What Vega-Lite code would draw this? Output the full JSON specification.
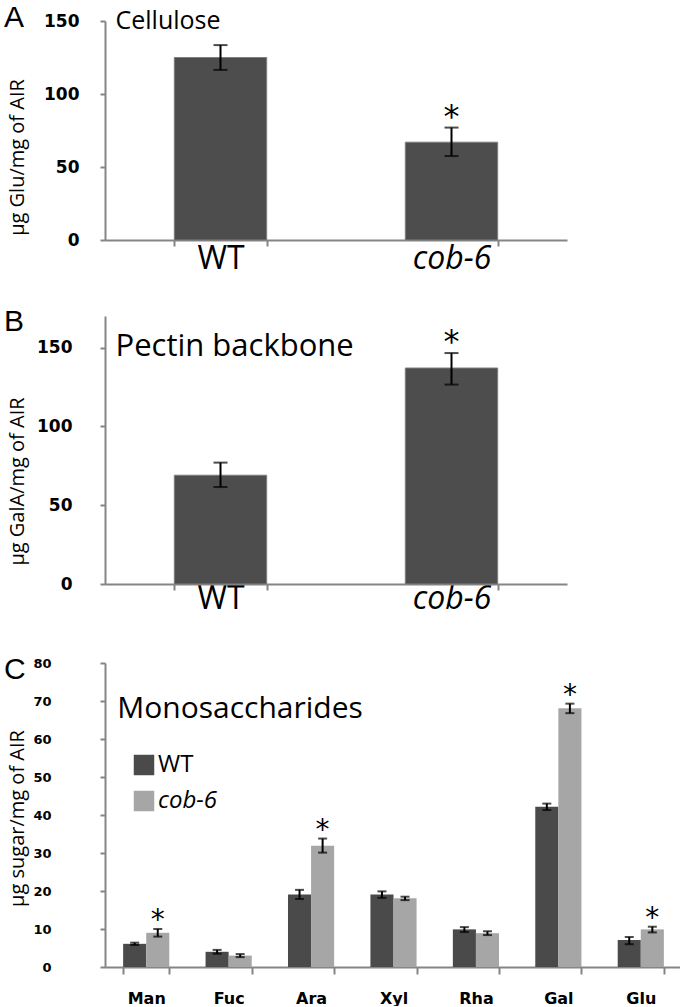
{
  "$schema": "https://vega.github.io/schema/vega-lite/v6.json",
  "padding": {"left": 3, "top": 3, "right": 0, "bottom": 0},
  "spacing": 33,
  "resolve": {"scale": {"color": "independent"}, "legend": {"color": "independent"}},
  "config": {
    "view": {"stroke": null},
    "axis": {"grid": false, "domainColor": "#858585", "domainWidth": 2, "tickColor": "#858585", "tickWidth": 2, "labelColor": "black", "titleColor": "black", "titleFont": "Open Sans", "titleFontWeight": "normal", "titleFontSize": 20},
    "axisY": {"labelFont": "DejaVu Sans", "labelFontWeight": "bold", "tickSize": 5, "labelOverlap": false},
    "title": {"fontSize": 30, "font": "Liberation Sans", "fontWeight": "normal", "anchor": "start", "frame": "bounds", "baseline": "alphabetic", "dx": -3, "color": "black"}
  },
  "vconcat": [
    {
      "title": {"text": "A", "offset": -24},
      "width": 462,
      "height": 219,
      "data": {"values": [
        {"genotype": "WT", "value": 125, "lo": 116.5, "hi": 133.5, "sig": ""},
        {"genotype": "cob-6", "value": 67, "lo": 57.5, "hi": 77, "sig": "*"}
      ]},
      "layer": [
        {
          "mark": {"type": "bar", "color": "#4d4d4d", "stroke": "#7f7f7f", "strokeWidth": 1},
          "encoding": {
            "x": {"field": "genotype", "type": "nominal", "sort": ["WT", "cob-6"], "scale": {"paddingInner": 0.6, "paddingOuter": 0.3},
              "axis": {"title": null, "labelAngle": 0, "labelFont": "Open Sans", "labelFontSize": 32, "labelFontStyle": {"condition": {"test": "datum.value == 'cob-6'", "value": "italic"}, "value": "normal"}, "tickBand": "extent", "tickSize": 6, "labelPadding": -3}},
            "y": {"field": "value", "type": "quantitative", "scale": {"domain": [0, 150], "nice": false},
              "axis": {"values": [0, 50, 100, 150], "tickCount": 10, "title": "µg Glu/mg of AIR", "labelFontSize": 17, "labelPadding": 21, "labelOverlap": false, "titleX": -78, "titleY": 136}}
          }
        },
        {
          "mark": {"type": "errorbar", "ticks": true, "size": 14, "thickness": 2, "color": "black"},
          "encoding": {
            "x": {"field": "genotype", "type": "nominal", "sort": ["WT", "cob-6"]},
            "y": {"field": "lo", "type": "quantitative", "axis": {"values": [0, 50, 100, 150], "tickCount": 10, "title": "µg Glu/mg of AIR", "labelFontSize": 17, "labelPadding": 21, "labelOverlap": false, "titleX": -78, "titleY": 136}},
            "y2": {"field": "hi"}
          }
        },
        {
          "mark": {"type": "text", "font": "DejaVu Sans", "fontSize": 32, "baseline": "alphabetic", "dy": -1},
          "encoding": {
            "x": {"field": "genotype", "type": "nominal", "sort": ["WT", "cob-6"]},
            "y": {"field": "hi", "type": "quantitative", "axis": {"values": [0, 50, 100, 150], "tickCount": 10, "title": "µg Glu/mg of AIR", "labelFontSize": 17, "labelPadding": 21, "labelOverlap": false, "titleX": -78, "titleY": 136}},
            "text": {"field": "sig"}
          }
        },
        {
          "data": {"values": [{"label": "Cellulose"}]},
          "mark": {"type": "text", "align": "left", "baseline": "alphabetic", "font": "Open Sans", "fontSize": 25, "dx": -105, "dy": 8},
          "encoding": {
            "x": {"datum": "WT"},
            "y": {"datum": 150},
            "text": {"field": "label"}
          }
        }
      ]
    },
    {
      "spacing": 41,
      "resolve": {"scale": {"color": "independent"}, "legend": {"color": "independent"}},
      "vconcat": [
        {
          "title": {"text": "B", "offset": -21},
          "width": 462,
          "height": 268,
          "data": {"values": [
            {"genotype": "WT", "value": 69, "lo": 61.5, "hi": 77, "sig": ""},
            {"genotype": "cob-6", "value": 137, "lo": 126.5, "hi": 146.5, "sig": "*"}
          ]},
          "layer": [
            {
              "mark": {"type": "bar", "color": "#4d4d4d", "stroke": "#7f7f7f", "strokeWidth": 1},
              "encoding": {
                "x": {"field": "genotype", "type": "nominal", "sort": ["WT", "cob-6"], "scale": {"paddingInner": 0.6, "paddingOuter": 0.3},
                  "axis": {"title": null, "labelAngle": 0, "labelFont": "Open Sans", "labelFontSize": 32, "labelFontStyle": {"condition": {"test": "datum.value == 'cob-6'", "value": "italic"}, "value": "normal"}, "tickBand": "extent", "tickSize": 6, "labelPadding": -7}},
                "y": {"field": "value", "type": "quantitative", "scale": {"domain": [0, 170], "nice": false},
                  "axis": {"values": [0, 50, 100, 150], "tickCount": 10, "title": "µg GalA/mg of AIR", "labelFontSize": 17, "labelPadding": 28, "labelOverlap": false, "titleX": -78, "titleY": 165}}
              }
            },
            {
              "mark": {"type": "errorbar", "ticks": true, "size": 14, "thickness": 2, "color": "black"},
              "encoding": {
                "x": {"field": "genotype", "type": "nominal", "sort": ["WT", "cob-6"]},
                "y": {"field": "lo", "type": "quantitative", "axis": {"values": [0, 50, 100, 150], "tickCount": 10, "title": "µg GalA/mg of AIR", "labelFontSize": 17, "labelPadding": 28, "labelOverlap": false, "titleX": -78, "titleY": 165}},
                "y2": {"field": "hi"}
              }
            },
            {
              "mark": {"type": "text", "font": "DejaVu Sans", "fontSize": 32, "baseline": "alphabetic", "dy": -1},
              "encoding": {
                "x": {"field": "genotype", "type": "nominal", "sort": ["WT", "cob-6"]},
                "y": {"field": "hi", "type": "quantitative", "axis": {"values": [0, 50, 100, 150], "tickCount": 10, "title": "µg GalA/mg of AIR", "labelFontSize": 17, "labelPadding": 28, "labelOverlap": false, "titleX": -78, "titleY": 165}},
                "text": {"field": "sig"}
              }
            },
            {
              "data": {"values": [{"label": "Pectin backbone"}]},
              "mark": {"type": "text", "align": "left", "baseline": "alphabetic", "font": "Open Sans", "fontSize": 31, "dx": -105, "dy": 8},
              "encoding": {
                "x": {"datum": "WT"},
                "y": {"datum": 150},
                "text": {"field": "label"}
              }
            }
          ]
        },
        {
          "title": {"text": "C", "offset": -28},
          "width": 577,
          "height": 304,
          "data": {"values": [
            {"sugar": "Man", "genotype": "WT", "value": 6.1, "lo": 5.8, "hi": 6.4, "sig": ""},
            {"sugar": "Man", "genotype": "cob-6", "value": 9.0, "lo": 8.0, "hi": 10.0, "sig": "*"},
            {"sugar": "Fuc", "genotype": "WT", "value": 4.0, "lo": 3.5, "hi": 4.5, "sig": ""},
            {"sugar": "Fuc", "genotype": "cob-6", "value": 3.0, "lo": 2.6, "hi": 3.4, "sig": ""},
            {"sugar": "Ara", "genotype": "WT", "value": 19.1, "lo": 17.9, "hi": 20.3, "sig": ""},
            {"sugar": "Ara", "genotype": "cob-6", "value": 31.9, "lo": 30.1, "hi": 33.8, "sig": "*"},
            {"sugar": "Xyl", "genotype": "WT", "value": 19.1, "lo": 18.2, "hi": 19.9, "sig": ""},
            {"sugar": "Xyl", "genotype": "cob-6", "value": 18.1, "lo": 17.6, "hi": 18.5, "sig": ""},
            {"sugar": "Rha", "genotype": "WT", "value": 9.9, "lo": 9.2, "hi": 10.5, "sig": ""},
            {"sugar": "Rha", "genotype": "cob-6", "value": 8.9, "lo": 8.4, "hi": 9.4, "sig": ""},
            {"sugar": "Gal", "genotype": "WT", "value": 42.2, "lo": 41.3, "hi": 43.0, "sig": ""},
            {"sugar": "Gal", "genotype": "cob-6", "value": 68.1, "lo": 66.8, "hi": 69.3, "sig": "*"},
            {"sugar": "Glu", "genotype": "WT", "value": 7.1, "lo": 6.0, "hi": 7.9, "sig": ""},
            {"sugar": "Glu", "genotype": "cob-6", "value": 9.9, "lo": 9.1, "hi": 10.6, "sig": "*"}
          ]},
          "layer": [
            {
              "mark": {"type": "bar"},
              "encoding": {
                "x": {"field": "sugar", "type": "nominal", "sort": ["Man", "Fuc", "Ara", "Xyl", "Rha", "Gal", "Glu"], "scale": {"paddingInner": 0.44, "paddingOuter": 0.22},
                  "axis": {"title": null, "labelAngle": 0, "labelFont": "DejaVu Sans", "labelFontWeight": "bold", "labelFontSize": 16, "tickBand": "extent", "tickSize": 7, "labelPadding": 16}},
                "xOffset": {"field": "genotype", "type": "nominal", "sort": ["WT", "cob-6"], "scale": {"paddingInner": 0, "paddingOuter": 0}},
                "y": {"field": "value", "type": "quantitative", "scale": {"domain": [0, 80], "nice": false},
                  "axis": {"values": [0, 10, 20, 30, 40, 50, 60, 70, 80], "tickCount": 12, "title": "µg sugar/mg of AIR", "labelFontSize": 13, "labelPadding": 49, "labelOverlap": false, "titleX": -78, "titleY": 155}},
                "color": {"field": "genotype", "type": "nominal", "sort": ["WT", "cob-6"], "scale": {"domain": ["WT", "cob-6"], "range": ["#4a4a4a", "#a6a6a6"]},
                  "legend": {"title": null, "orient": "none", "legendX": 27, "legendY": 90, "symbolType": "square", "symbolSize": 420, "symbolStrokeWidth": 0, "labelFont": "Open Sans", "labelFontSize": 24, "labelOffset": 2, "rowPadding": 12, "labelColor": "black", "labelFontStyle": {"expr": "datum.label == 'cob-6' ? 'italic' : 'normal'"}}}
              }
            },
            {
              "mark": {"type": "errorbar", "ticks": true, "size": 9, "thickness": 2, "color": "black"},
              "encoding": {
                "x": {"field": "sugar", "type": "nominal", "sort": ["Man", "Fuc", "Ara", "Xyl", "Rha", "Gal", "Glu"]},
                "xOffset": {"field": "genotype", "type": "nominal", "sort": ["WT", "cob-6"]},
                "y": {"field": "lo", "type": "quantitative", "axis": {"values": [0, 10, 20, 30, 40, 50, 60, 70, 80], "tickCount": 12, "title": "µg sugar/mg of AIR", "labelFontSize": 13, "labelPadding": 49, "labelOverlap": false, "titleX": -78, "titleY": 155}},
                "y2": {"field": "hi"}
              }
            },
            {
              "mark": {"type": "text", "font": "DejaVu Sans", "fontSize": 28, "baseline": "alphabetic", "dy": 0},
              "encoding": {
                "x": {"field": "sugar", "type": "nominal", "sort": ["Man", "Fuc", "Ara", "Xyl", "Rha", "Gal", "Glu"]},
                "xOffset": {"field": "genotype", "type": "nominal", "sort": ["WT", "cob-6"]},
                "y": {"field": "hi", "type": "quantitative", "axis": {"values": [0, 10, 20, 30, 40, 50, 60, 70, 80], "tickCount": 12, "title": "µg sugar/mg of AIR", "labelFontSize": 13, "labelPadding": 49, "labelOverlap": false, "titleX": -78, "titleY": 155}},
                "text": {"field": "sig"}
              }
            },
            {
              "data": {"values": [{"label": "Monosaccharides"}]},
              "mark": {"type": "text", "align": "left", "baseline": "alphabetic", "font": "Open Sans", "fontSize": 30, "dx": -29, "dy": 17},
              "encoding": {
                "x": {"datum": "Man"},
                "y": {"datum": 70},
                "text": {"field": "label"}
              }
            }
          ]
        }
      ]
    }
  ]
}
